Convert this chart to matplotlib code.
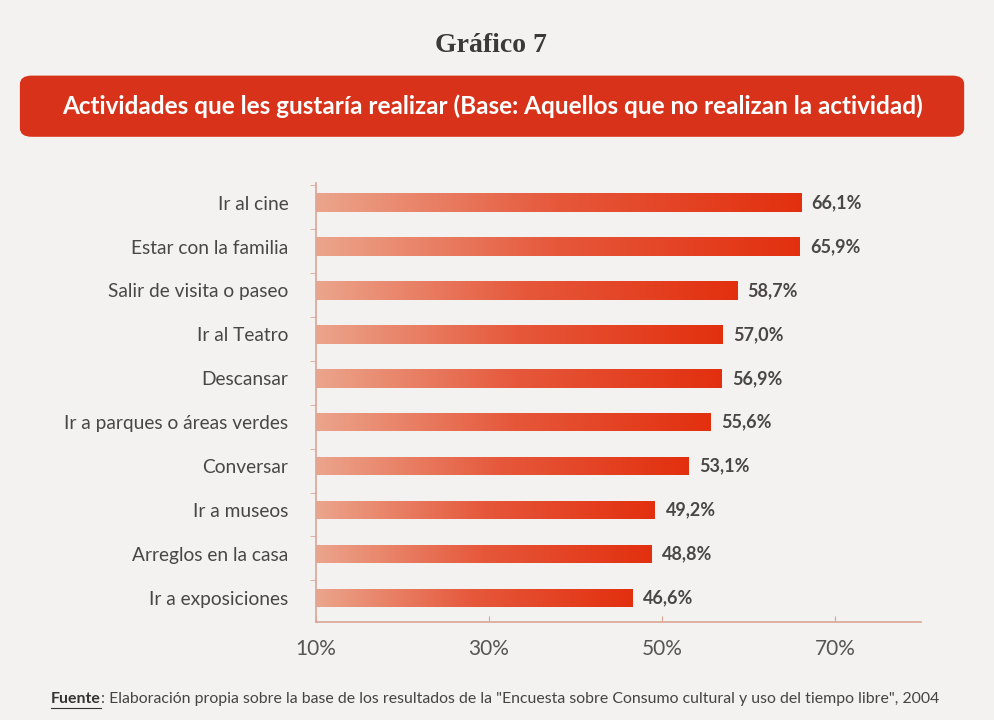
import numpy as np
import matplotlib
matplotlib.use("Agg")
import matplotlib.pyplot as plt
from matplotlib.patches import FancyBboxPatch
from matplotlib.lines import Line2D
from matplotlib.colors import LinearSegmentedColormap

# ── data ──────────────────────────────────────────────────────────────
actividades = [
    "Ir al cine",
    "Estar con la familia",
    "Salir de visita o paseo",
    "Ir al Teatro",
    "Descansar",
    "Ir a parques o áreas verdes",
    "Conversar",
    "Ir a museos",
    "Arreglos en la casa",
    "Ir a exposiciones",
]
porcentajes = [66.1, 65.9, 58.7, 57.0, 56.9, 55.6, 53.1, 49.2, 48.8, 46.6]
xticks = [10, 30, 50, 70]

# ── style ─────────────────────────────────────────────────────────────
BG = "#f3f2f0"
RED = "#d8321a"
AXIS_COL = "#d9a595"
TEXT_COL = "#4a4646"
SANS = ["Lato", "DejaVu Sans"]

grad = LinearSegmentedColormap.from_list("bar", ["#eba58c", "#e6573a", "#e2300f"])

fig = plt.figure(figsize=(9.94, 7.2), dpi=100, facecolor=BG)

# title + banner
fig.text(0.494, 0.937, "Gráfico 7", ha="center", va="center",
         fontsize=20, fontweight="bold",
         family=["Liberation Serif", "DejaVu Serif"], color="#3a3a3a")
banner = FancyBboxPatch((0.020, 0.810), 0.950, 0.085,
                        boxstyle="round,pad=0,rounding_size=0.012",
                        transform=fig.transFigure, facecolor=RED,
                        edgecolor="none", zorder=1)
fig.patches.append(banner)
fig.text(0.495, 0.852,
         "Actividades que les gustaría realizar (Base: Aquellos que no realizan la actividad)",
         ha="center", va="center", fontsize=17.5, color="white",
         family=SANS, fontweight="bold")

# chart
ax = fig.add_axes([0.318, 0.136, 0.609, 0.610], facecolor=BG)
y = np.arange(len(actividades))
ax.set_xlim(10, 80)
ax.set_ylim(len(actividades) - 0.45, -0.45)

bar_h = 0.42
bars = ax.barh(y, [p - 10 for p in porcentajes], left=10, height=bar_h,
               color="none", edgecolor="none")
gimg = np.linspace(0, 1, 256).reshape(1, -1)
for b, p in zip(bars, porcentajes):
    im = ax.imshow(gimg, cmap=grad, aspect="auto",
                   extent=[10, p, b.get_y() + bar_h, b.get_y()], zorder=2)
    im.set_clip_path(b)
    ax.text(p + 1.2, b.get_y() + bar_h / 2, f"{p:.1f}%".replace(".", ","),
            va="center", ha="left", fontsize=13, fontweight="bold",
            color=TEXT_COL, family=SANS)

ax.set_yticks(y)
ax.set_yticklabels(actividades, fontsize=13.8, color=TEXT_COL, family=SANS)
ax.tick_params(axis="y", length=0, pad=20)
ax.set_yticks(y - 0.4, minor=True)
ax.tick_params(axis="y", which="minor", length=4, color=AXIS_COL, direction="out")

ax.set_xticks(xticks)
ax.set_xticklabels([f"{t}%" for t in xticks], fontsize=15, color="#555", family=SANS)
ax.tick_params(axis="x", length=4, color=AXIS_COL, direction="in", pad=12)

for s in ["top", "right"]:
    ax.spines[s].set_visible(False)
for s in ["left", "bottom"]:
    ax.spines[s].set_color(AXIS_COL)
    ax.spines[s].set_linewidth(1.2)

# source note ("Fuente" underlined)
fuente = fig.text(0.051, 0.023, "Fuente", fontsize=11.4, color="#333", family=SANS,
                  va="baseline", ha="left", fontweight="bold")
fig.canvas.draw()
bb = fuente.get_window_extent().transformed(fig.transFigure.inverted())
fig.add_artist(Line2D([bb.x0, bb.x1], [bb.y0 - 0.002, bb.y0 - 0.002],
                      transform=fig.transFigure, color="#333", lw=0.8))
fig.text(bb.x1, 0.023,
         ": Elaboración propia sobre la base de los resultados de la \"Encuesta sobre "
         "Consumo cultural y uso del tiempo libre\", 2004",
         fontsize=11.4, color="#444", family=SANS, va="baseline", ha="left")

fig.savefig("out.png", dpi=100, facecolor=BG)
